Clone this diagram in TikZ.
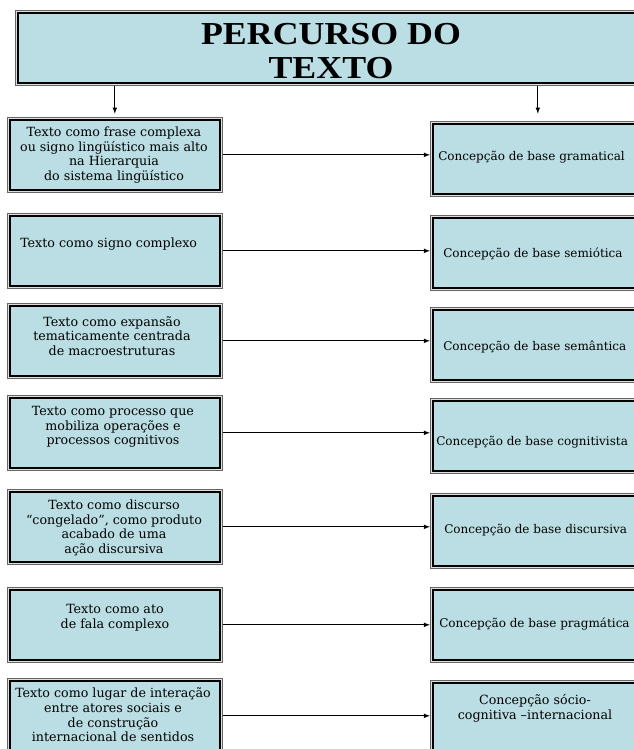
\documentclass[tikz,border=0pt]{standalone}
\usepackage{fontspec}
\setmainfont{DejaVu Serif}
\newfontfamily\titlefont[FakeStretch=1.12]{Liberation Serif}
\definecolor{boxblue}{RGB}{186,222,227}
\definecolor{rimgray}{RGB}{222,224,224}
\tikzset{
	box/.style={rectangle, draw=black!60, line width=0.5pt, fill=rimgray, anchor=north west,
		inner sep=0pt, minimum width=161.25pt, minimum height=56.25pt},
	rim/.style={draw=black, fill=boxblue, line width=1.3pt},
	txt/.style={font=\fontsize{9.5}{11}\selectfont, align=center, inner sep=0pt},
	rtxt/.style={txt, font=\fontsize{9}{11}\selectfont, anchor=west},
}
\begin{document}
\begin{tikzpicture}[x=0.75pt, y=0.75pt]
		\useasboundingbox (0,0) rectangle (634,-749);
		\clip (0,0) rectangle (634,-749);
		% title
		\node[box, minimum width=472.5pt] (title) at (15,-10) {};
		\draw[rim] ([shift={(3,-3)}]title.north west) rectangle ([shift={(-3,3)}]title.south east);
		\node[font=\titlefont\bfseries\fontsize{24}{26}\selectfont, align=center, inner sep=0pt] (ttl) at (331,-51) {PERCURSO DO\\TEXTO};
		% left and right columns
		\foreach \i/\top in {1/117, 2/213, 3/303, 4/395, 5/489, 6/587, 7/678} {
			\node[box] (l\i) at (7,-\top) {};
			\draw[rim] ([shift={(3,-3)}]l\i.north west) rectangle ([shift={(-3,3)}]l\i.south east);
		}
		\foreach \i/\top in {1/121, 2/215, 3/307, 4/398, 5/493, 6/587, 7/680} {
			\node[box] (r\i) at (430,-\top) {};
			\draw[rim] ([shift={(3,-3)}]r\i.north west) rectangle ([shift={(-3,3)}]r\i.south east);
		}
		% texts on the left
		\node[txt] (tl1) at (114,-155) {Texto como frase\  complexa\\ou signo\  lingüístico mais alto\\na Hierarquia\\do sistema\  lingüístico};
		\node[txt, anchor=west] (tl2) at (20,-244) {Texto como signo complexo};
		\node[txt] (tl3) at (112,-336) {Texto como expansão\\tematicamente centrada\\de macroestruturas};
		\node[txt] (tl4) at (113,-427) {Texto como processo que\\mobiliza operações e\\processos cognitivos};
		\node[txt] (tl5) at (114,-528) {Texto como discurso\\“congelado”,\ como produto\\acabado de uma\\ação discursiva};
		\node[txt] (tl6) at (115,-618) {Texto como\  ato\\de fala complexo};
		\node[txt] (tl7) at (113,-715) {Texto como lugar de interação\\entre atores sociais e\\de construção\\internacional de sentidos};
		% texts on the right
		\node[rtxt] (tr1) at (438,-157) {Concepção\  de base gramatical};
		\node[rtxt] (tr2) at (443,-254) {Concepção de base semiótica};
		\node[rtxt] (tr3) at (443,-347) {Concepção de base semântica};
		\node[rtxt] (tr4) at (436,-442) {Concepção de base cognitivista};
		\node[rtxt] (tr5) at (444,-530) {Concepção de base discursiva};
		\node[rtxt] (tr6) at (439,-624) {Concepção de base pragmática};
		\node[txt] (tr7) at (535,-708) {Concepção sócio-\\cognitiva –internacional};
		% arrows
		\draw[-latex, line width=0.6pt] (title.south -| l1.north) -- ++(0,-28);
		\draw[-latex, line width=0.6pt] (title.south -| r1.north) -- ++(0,-28);
		\foreach \i in {1, ..., 7} {
			\draw[-latex, line width=0.6pt] (l\i.east) -- (l\i.east -| r\i.west);
		}
	\end{tikzpicture}
\end{document}
